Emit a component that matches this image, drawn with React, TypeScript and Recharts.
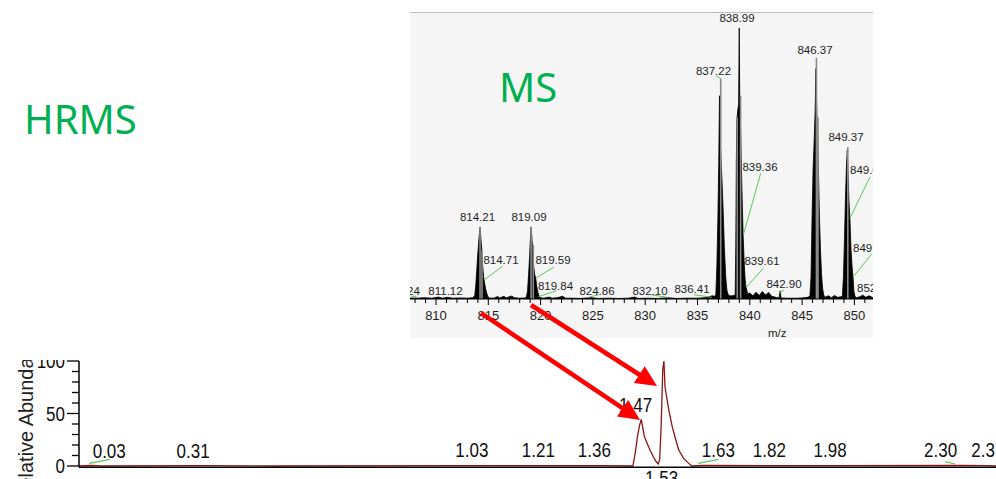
import React from 'react';
import {
  ComposedChart,
  LineChart,
  Line,
  Area,
  XAxis,
  YAxis,
  ReferenceLine,
  ReferenceDot,
  Label,
} from 'recharts';

type Pt = [number, number];

// ---------- Mass spectrum: profile trace [m/z, relative abundance %] ----------
const msLowMass: Pt[] = [
  [807.52, 0.4], [808.2, 0.3], [808.9, 0.5], [809.6, 0.3], [810.24, 0.7], [810.6, 0.3],
  [811.12, 0.6], [811.6, 0.3], [812.3, 0.4], [813.0, 0.3], [813.5, 0.5],
];
const msCluster814: Pt[] = [
  [813.7, 1.2], [813.8, 5], [813.9, 11], [814.0, 17], [814.1, 22], [814.21, 26.6], [814.3, 22],
  [814.38, 18], [814.47, 12], [814.56, 8], [814.66, 5.5], [814.76, 3.5], [814.86, 2], [814.96, 0.9], [815.1, 0.4],
];
const msGap816: Pt[] = [
  [815.5, 0.3], [815.9, 0.9], [816.1, 0.4], [816.5, 1.0], [816.7, 0.4], [817.2, 1.1], [817.5, 0.5], [818.0, 0.3], [818.5, 0.4],
];
const msCluster819: Pt[] = [
  [818.65, 0.8], [818.75, 3], [818.85, 9], [818.95, 16], [819.02, 22], [819.09, 26.6], [819.16, 23],
  [819.24, 18], [819.34, 12], [819.44, 9], [819.54, 7.5], [819.64, 4.5], [819.74, 2.5], [819.84, 1.3], [819.96, 0.5],
];
const msGap828: Pt[] = [
  [820.3, 0.3], [820.8, 0.7], [821.1, 0.3], [821.6, 0.5], [822.1, 1.0], [822.4, 0.3], [823.0, 0.3], [823.8, 0.2],
  [824.86, 0.5], [825.5, 0.2], [826.5, 0.3], [827.5, 0.2], [828.4, 0.3], [829.0, 0.7], [829.3, 0.2], [830.2, 0.3],
  [831.2, 0.2], [832.1, 0.5], [833.0, 0.2], [834.0, 0.3], [835.0, 0.3], [835.7, 0.5], [836.1, 0.8], [836.41, 1.2], [836.6, 1.0],
];
const msCluster837: Pt[] = [
  [836.75, 1.5], [836.85, 12], [836.95, 30], [837.03, 50], [837.1, 75], [837.16, 60], [837.24, 52], [837.34, 44],
  [837.44, 34], [837.56, 20], [837.7, 8], [837.82, 3], [837.95, 1.4], [838.2, 1.1], [838.45, 1.3],
];
const msCluster839: Pt[] = [
  [838.6, 1.5], [838.66, 20], [838.71, 50], [838.76, 66], [838.86, 70], [838.93, 72], [838.99, 100], [839.04, 74],
  [839.1, 66], [839.18, 52], [839.27, 37], [839.36, 24], [839.46, 14], [839.54, 8], [839.61, 5], [839.72, 3], [839.85, 1.8],
];
const msGap843: Pt[] = [
  [840.0, 2.2], [840.3, 1.2], [840.6, 2.5], [840.9, 1.3], [841.2, 2.8], [841.5, 1.5], [841.8, 2.4], [842.1, 1.0],
  [842.5, 0.6], [842.8, 0.4], [842.9, 3.0], [842.98, 0.4], [843.5, 0.3], [844.0, 0.3], [844.5, 0.3], [845.0, 0.4], [845.5, 0.6],
];
const msCluster846: Pt[] = [
  [845.75, 1], [845.85, 8], [845.95, 30], [846.05, 48], [846.15, 58], [846.25, 70], [846.32, 85], [846.4, 70],
  [846.47, 62], [846.56, 48], [846.66, 30], [846.76, 18], [846.86, 9], [846.96, 4], [847.06, 1.5], [847.2, 0.6],
];
const msGap848: Pt[] = [[847.5, 1.2], [847.8, 0.5], [848.1, 1.3], [848.4, 0.6], [848.7, 0.8]];
const msCluster849: Pt[] = [
  [848.85, 1], [848.95, 8], [849.05, 22], [849.15, 38], [849.25, 50], [849.32, 55], [849.4, 45], [849.48, 36],
  [849.58, 29], [849.68, 18], [849.78, 12], [849.87, 8], [849.95, 3], [850.05, 1], [850.2, 0.5], [850.5, 0.8],
  [850.8, 1.4], [851.1, 0.6], [851.4, 1.2], [851.77, 0.5],
];

// Centroid sticks drawn in grey behind the profile
const msStickMz = [814.21, 814.4, 819.09, 819.3, 837.22, 838.8, 839.12, 846.37, 846.52, 849.37];
const msStickAbundance = [26.6, 18, 26.6, 20, 81.5, 67, 75, 89, 67, 56];

const msDomain: [number, number] = [807.514, 851.778];
const msTicks = Array.from({ length: 44 }, (_, i) => 808 + i);

// Peak annotations: text placed at (mz, level) in data space
const msLabelSpots = [
  { text: '814.21', mz: 813.967, level: 30.3, anchor: 'middle' },
  { text: '819.09', mz: 818.891, level: 30.3, anchor: 'middle' },
  { text: '837.22', mz: 836.53, level: 84.1, anchor: 'middle' },
  { text: '838.99', mz: 838.776, level: 103.7, anchor: 'middle' },
  { text: '846.37', mz: 846.233, level: 91.9, anchor: 'middle' },
  { text: '849.37', mz: 849.197, level: 59.8, anchor: 'middle' },
  { text: '814.71', mz: 816.214, level: 14.4, anchor: 'middle' },
  { text: '819.59', mz: 821.185, level: 14.4, anchor: 'middle' },
  { text: '819.84', mz: 821.424, level: 4.8, anchor: 'middle' },
  { text: '811.12', mz: 810.908, level: 2.95, anchor: 'middle' },
  { text: '824.86', mz: 825.392, level: 2.95, anchor: 'middle' },
  { text: '832.10', mz: 830.459, level: 2.95, anchor: 'middle' },
  { text: '836.41', mz: 834.474, level: 3.7, anchor: 'middle' },
  { text: '839.36', mz: 840.975, level: 48.7, anchor: 'middle' },
  { text: '839.61', mz: 841.166, level: 14.0, anchor: 'middle' },
  { text: '842.90', mz: 843.27, level: 5.5, anchor: 'middle' },
  { text: '810.24', mz: 808.45, level: 2.95, anchor: 'end' },
  { text: '849.62', mz: 849.579, level: 47.6, anchor: 'start' },
  { text: '849.87', mz: 849.866, level: 18.8, anchor: 'start' },
  { text: '852.03', mz: 850.249, level: 4.06, anchor: 'start' },
];

// Leader lines from a peak to its shifted label: [mz1, level1, mz2, level2]
const msLeaders: [number, number, number, number][] = [
  [814.589, 7.0, 816.405, 12.2],
  [819.56, 7.75, 821.281, 11.8],
  [819.78, 0.85, 821.539, 3.06],
  [824.723, 0.85, 825.516, 1.48],
  [830.622, 1.48, 832.113, 0.63],
  [834.665, 1.59, 836.358, 0.63],
  [839.379, 23.6, 841.042, 46.4],
  [839.704, 4.54, 841.291, 11.3],
  [842.82, 2.32, 843.27, 3.32],
  [849.579, 29.8, 851.491, 45.1],
  [849.895, 8.23, 851.654, 16.6],
  [807.6, 1.11, 808.184, 0.74],
  [836.768, 82.3, 837.151, 81.55],
];

// ---------- Chromatogram: retention time (min) vs relative abundance ----------
const rtMinutes = [
  0, 0.03, 0.06, 0.31, 0.5, 1.03, 1.21, 1.36, 1.446, 1.452, 1.458, 1.463, 1.468, 1.472, 1.476, 1.484, 1.491,
  1.499, 1.507, 1.512, 1.516, 1.52, 1.524, 1.527, 1.53, 1.535, 1.54, 1.549, 1.558, 1.566, 1.579, 1.592, 1.6,
  1.63, 1.82, 1.98, 2.3, 2.37, 2.394,
];
const rtAbundance = [
  0, 0.5, 0, 0.4, 0, 0.4, 0.4, 0.4, 0, 12, 28, 38, 44.5, 36, 28, 21, 15,
  9, 4, 2, 6, 40, 92, 100, 75, 64, 53, 37, 25, 15, 7, 2.5, 0,
  0.5, 0.4, 0.4, 0.5, 0.4, 0,
];
const abundanceTicks = [0, 10, 20, 30, 40, 50, 60, 70, 80, 90, 100];

const rtLabelSpots = [
  { text: '0.03', rt: 0.0789, level: 14.8 },
  { text: '0.31', rt: 0.298, level: 14.8 },
  { text: '1.03', rt: 1.0255, level: 15.2 },
  { text: '1.21', rt: 1.1992, level: 15.2 },
  { text: '1.36', rt: 1.3454, level: 15.2 },
  { text: '1.47', rt: 1.453, level: 58.4 },
  { text: '1.53', rt: 1.5209, level: -10.95 },
  { text: '1.63', rt: 1.6692, level: 15.2 },
  { text: '1.82', rt: 1.8024, level: 15.2 },
  { text: '1.98', rt: 1.9608, level: 15.2 },
  { text: '2.30', rt: 2.2493, level: 15.2 },
  { text: '2.37', rt: 2.3726, level: 15.2 },
];
const rtLeaders: [number, number, number, number][] = [
  [0.0269, 2.57, 0.0809, 6.38],
  [1.617, 2.57, 1.6692, 6.38],
  [2.2611, 4.1, 2.2872, 1.9],
];

// Arrows linking spectrum peaks to chromatographic peaks (page pixels)
const arrowLinks = [
  { from: [481, 313], to: [640, 420] },
  { from: [531, 305], to: [657, 386] },
];

const SANS = "'Liberation Sans', Arial, sans-serif";
const GREEN_TEXT = '#00b050';
const LEADER = '#5cc85c';

const MsTick = (props: any) => {
  const { x, y, payload } = props;
  const major = payload.value % 5 === 0;
  return (
    <g>
      <line x1={x} x2={x} y1={y} y2={y + (major ? 6 : 4)} stroke="#000" strokeWidth={1} />
      {major && (
        <text x={x} y={y + 16} textAnchor="middle" dominantBaseline="central" fontSize={13} fontFamily={SANS} fill="#1e1e1e">
          {payload.value}
        </text>
      )}
    </g>
  );
};

const ChromText = ({ x, y, text, anchor = 'middle' }: { x: number; y: number; text: string; anchor?: string }) => (
  <text
    transform={`translate(${x} ${y}) scale(0.81 1)`}
    textAnchor={anchor as any}
    dominantBaseline="central"
    fontSize={21}
    fontFamily={SANS}
    fill="#111"
  >
    {text}
  </text>
);

const AbundanceTick = (props: any) => {
  const { x, y, payload } = props;
  const major = payload.value % 50 === 0;
  return (
    <g>
      <line x1={x - (major ? 12 : 7)} x2={x} y1={y} y2={y} stroke="#000" strokeWidth={1.3} />
      {major && <ChromText x={x - 14} y={y} text={String(payload.value)} anchor="end" />}
    </g>
  );
};

function arrowGeometry(from: number[], to: number[], headLen = 21, headHalf = 10) {
  const dx = to[0] - from[0];
  const dy = to[1] - from[1];
  const len = Math.hypot(dx, dy);
  const ux = dx / len;
  const uy = dy / len;
  const bx = to[0] - ux * headLen;
  const by = to[1] - uy * headLen;
  const px = -uy * headHalf;
  const py = ux * headHalf;
  return {
    line: [from[0], from[1], bx + ux * 3, by + uy * 3],
    head: `${to[0]},${to[1]} ${bx + px},${by + py} ${bx - px},${by - py}`,
  };
}

export default function App() {
  const msProfile = [
    ...msLowMass, ...msCluster814, ...msGap816, ...msCluster819, ...msGap828,
    ...msCluster837, ...msCluster839, ...msGap843, ...msCluster846, ...msGap848, ...msCluster849,
  ].map(([mz, v]) => ({ mz, v }));

  const msSticks: { mz: number; v: number | null }[] = [];
  msStickMz.forEach((mz, i) => {
    msSticks.push({ mz, v: 0 }, { mz, v: msStickAbundance[i] }, { mz, v: null });
  });

  const chromData = rtMinutes.map((rt, i) => ({ rt, abundance: rtAbundance[i] }));

  return (
    <div style={{ position: 'absolute', left: 0, top: 0, width: 996, height: 479, overflow: 'hidden', background: '#fff' }}>
      {/* Mass spectrum panel */}
      <div
        style={{
          position: 'absolute', left: 410, top: 12, width: 463, height: 326,
          background: '#f5f5f5', borderTop: '1px solid #bdbdbd', boxSizing: 'border-box',
        }}
      />
      <div style={{ position: 'absolute', left: 410, top: 12 }}>
        <ComposedChart width={463} height={326} margin={{ top: 2.45, right: 0, bottom: 0, left: 0 }}>
          <XAxis
            dataKey="mz"
            type="number"
            domain={msDomain}
            ticks={msTicks}
            interval={0}
            tickSize={0}
            tickMargin={0}
            tick={<MsTick />}
            height={39}
            axisLine={{ stroke: '#000', strokeWidth: 1 }}
          >
            <Label
              content={(p: any) => {
                const vb = p.viewBox || { x: 0, y: 287, width: 463, height: 39 };
                return (
                  <text x={vb.x + vb.width * 0.793} y={vb.y + 34} textAnchor="middle" dominantBaseline="central" fontSize={11.5} fontFamily={SANS} fill="#1e1e1e">
                    m/z
                  </text>
                );
              }}
            />
          </XAxis>
          <YAxis type="number" domain={[0, 105]} hide />
          <Line data={msSticks} dataKey="v" stroke="#8a8a8a" strokeWidth={1.6} dot={false} isAnimationActive={false} connectNulls={false} />
          <Area data={msProfile} dataKey="v" type="linear" stroke="#000" strokeWidth={0.8} fill="#000" fillOpacity={1} isAnimationActive={false} />
          {msLeaders.map((l, i) => (
            <ReferenceLine key={`ml${i}`} segment={[{ x: l[0], y: l[1] }, { x: l[2], y: l[3] }]} stroke={LEADER} strokeWidth={1} ifOverflow="visible" />
          ))}
          {msLabelSpots.map((s) => (
            <ReferenceDot
              key={s.text}
              x={s.mz}
              y={s.level}
              r={1}
              ifOverflow="visible"
              shape={(p: any) => (
                <text x={p.cx} y={p.cy} textAnchor={s.anchor as any} dominantBaseline="central" fontSize={11.5} fontFamily={SANS} fill="#1e1e1e">
                  {s.text}
                </text>
              )}
            />
          ))}
        </ComposedChart>
      </div>

      {/* Total ion chromatogram */}
      <div style={{ position: 'absolute', left: 0, top: 360 }}>
        <LineChart width={996} height={119} data={chromData} margin={{ top: 1, right: 0, bottom: 0, left: 0 }}>
          <XAxis
            dataKey="rt"
            type="number"
            domain={[0, 2.394]}
            tick={false}
            tickLine={false}
            height={11.8}
            axisLine={{ stroke: '#000', strokeWidth: 1.5 }}
          />
          <YAxis
            type="number"
            domain={[-1.14, 100]}
            ticks={abundanceTicks}
            interval={0}
            width={79}
            tickSize={0}
            tickMargin={0}
            tick={<AbundanceTick />}
            axisLine={{ stroke: '#000', strokeWidth: 1.5 }}
          >
            <Label
              content={(p: any) => {
                const vb = p.viewBox || { x: 0, y: 1, width: 79, height: 106 };
                const cx = vb.x + 33;
                const cy = vb.y + vb.height / 2;
                return (
                  <text x={cx} y={cy} transform={`rotate(-90 ${cx} ${cy})`} textAnchor="middle" fontSize={20} fontFamily={SANS} fill="#222">
                    Relative Abundance
                  </text>
                );
              }}
            />
          </YAxis>
          <Line dataKey="abundance" type="linear" stroke="#8b1515" strokeWidth={1.3} dot={false} isAnimationActive={false} />
          {rtLeaders.map((l, i) => (
            <ReferenceLine key={`rl${i}`} segment={[{ x: l[0], y: l[1] }, { x: l[2], y: l[3] }]} stroke={LEADER} strokeWidth={1.2} ifOverflow="visible" />
          ))}
          {rtLabelSpots.map((s) => (
            <ReferenceDot
              key={s.text}
              x={s.rt}
              y={s.level}
              r={1}
              ifOverflow="visible"
              shape={(p: any) => <ChromText x={p.cx} y={p.cy} text={s.text} />}
            />
          ))}
        </LineChart>
      </div>

      {/* Titles and linking arrows */}
      <svg width={996} height={479} style={{ position: 'absolute', left: 0, top: 0, pointerEvents: 'none' }}>
        <text x={24} y={134} fontSize={40} fontFamily="'Noto Sans', 'Open Sans', sans-serif" fill={GREEN_TEXT}>
          HRMS
        </text>
        <text x={499} y={102} fontSize={40} fontFamily="'Noto Sans', 'Open Sans', sans-serif" fill={GREEN_TEXT}>
          MS
        </text>
        {arrowLinks.map((a, i) => {
          const g = arrowGeometry(a.from, a.to);
          return (
            <g key={`arrow${i}`}>
              <line x1={g.line[0]} y1={g.line[1]} x2={g.line[2]} y2={g.line[3]} stroke="#ff0000" strokeWidth={4.5} />
              <polygon points={g.head} fill="#ff0000" />
            </g>
          );
        })}
      </svg>
    </div>
  );
}
